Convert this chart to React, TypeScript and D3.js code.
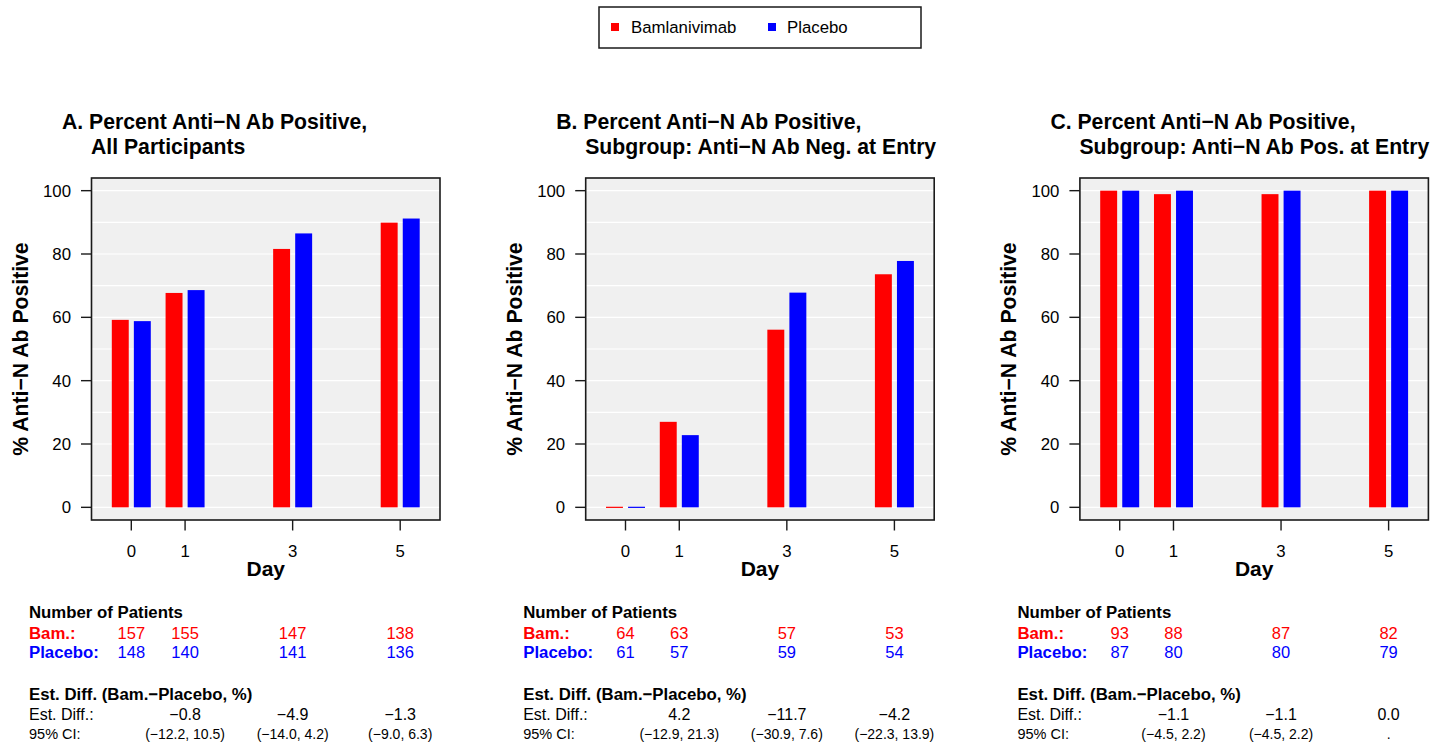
import * as React from "react";
import * as d3 from "d3";

const days = [0, 1, 3, 5];
const diffDays = [1, 3, 5];
const yTicks = [0, 20, 40, 60, 80, 100];
const gridValues = d3.range(0, 101, 10);

const titles = ["A. Percent Anti\u2212N Ab Positive,", "B. Percent Anti\u2212N Ab Positive,", "C. Percent Anti\u2212N Ab Positive,"];
const subtitles = ["All Participants", "Subgroup: Anti\u2212N Ab Neg. at Entry", "Subgroup: Anti\u2212N Ab Pos. at Entry"];

const bamPctA = [59.2, 67.7, 81.6, 89.9];
const placeboPctA = [58.8, 68.6, 86.5, 91.2];
const bamPctB = [0, 27.0, 56.1, 73.6];
const placeboPctB = [0, 22.8, 67.8, 77.8];
const bamPctC = [100, 98.9, 98.9, 100];
const placeboPctC = [100, 100, 100, 100];

const bamNA = [157, 155, 147, 138];
const placeboNA = [148, 140, 141, 136];
const bamNB = [64, 63, 57, 53];
const placeboNB = [61, 57, 59, 54];
const bamNC = [93, 88, 87, 82];
const placeboNC = [87, 80, 80, 79];

const estDiffA = ["\u22120.8", "\u22124.9", "\u22121.3"];
const ciA = ["(\u221212.2, 10.5)", "(\u221214.0, 4.2)", "(\u22129.0, 6.3)"];
const estDiffB = ["4.2", "\u221211.7", "\u22124.2"];
const ciB = ["(\u221212.9, 21.3)", "(\u221230.9, 7.6)", "(\u221222.3, 13.9)"];
const estDiffC = ["\u22121.1", "\u22121.1", "0.0"];
const ciC = ["(\u22124.5, 2.2)", "(\u22124.5, 2.2)", "."];

const RED = "#ff0000";
const BLUE = "#0000ff";
const FONT = "'Liberation Sans', Arial, Helvetica, sans-serif";

const panels = [
  { title: titles[0], sub: subtitles[0], bam: bamPctA, pla: placeboPctA, bamN: bamNA, plaN: placeboNA, diff: estDiffA, ci: ciA },
  { title: titles[1], sub: subtitles[1], bam: bamPctB, pla: placeboPctB, bamN: bamNB, plaN: placeboNB, diff: estDiffB, ci: ciB },
  { title: titles[2], sub: subtitles[2], bam: bamPctC, pla: placeboPctC, bamN: bamNC, plaN: placeboNC, diff: estDiffC, ci: ciC },
];

const Panel = ({ p, ox }) => {
  const left = 91.5, right = 440, top = 178, bottom = 520;
  const x = d3.scaleLinear().domain([-0.74, 5.74]).range([left, right]);
  const y = d3.scaleLinear().domain([-4, 104]).range([bottom, top]);
  const off = 0.205, bw = 0.315;
  // zero-height bars still show as a thin line, like R's barplot border
  const bar = (d, v, dx, col) => {
    const h = Math.max(y(0) - y(v), 1.2);
    return <rect x={x(d + dx - bw / 2)} y={y(0) - h + (v === 0 ? 0.6 : 0)} width={x(bw) - x(0)} height={h} fill={col} />;
  };

  return (
    <g transform={`translate(${ox},0)`}>
      <text x={62} y={129} fontSize={21.2} fontWeight="bold">{p.title}</text>
      <text x={91} y={154} fontSize={21.2} fontWeight="bold">{p.sub}</text>

      <rect x={left} y={top} width={right - left} height={bottom - top} fill="#f0f0f0" />
      {gridValues.map(v => (
        <line key={"g" + v} x1={left} x2={right} y1={y(v)} y2={y(v)} stroke="#fff" strokeWidth={1.2} />
      ))}
      {days.map((d, i) => (
        <g key={"b" + d}>
          {bar(d, p.bam[i], -off, RED)}
          {bar(d, p.pla[i], off, BLUE)}
        </g>
      ))}
      <rect x={left} y={top} width={right - left} height={bottom - top} fill="none" stroke="#1a1a1a" strokeWidth={1.6} />

      {yTicks.map(t => (
        <g key={"yt" + t}>
          <line x1={81} x2={left} y1={y(t)} y2={y(t)} stroke="#1a1a1a" strokeWidth={1.4} />
          <text x={71} y={y(t)} dy="0.36em" textAnchor="end" fontSize={16.8}>{t}</text>
        </g>
      ))}
      {days.map(d => (
        <g key={"xt" + d}>
          <line x1={x(d)} x2={x(d)} y1={bottom} y2={530.5} stroke="#1a1a1a" strokeWidth={1.4} />
          <text x={x(d)} y={557} textAnchor="middle" fontSize={16.8}>{d}</text>
        </g>
      ))}
      <text x={(left + right) / 2} y={576} textAnchor="middle" fontSize={21} fontWeight="bold">Day</text>
      <text transform={`translate(27.5,${(top + bottom) / 2}) rotate(-90)`} textAnchor="middle" fontSize={21.2} fontWeight="bold">
        % Anti{"\u2212"}N Ab Positive
      </text>

      <text x={29} y={618} fontSize={16.8} fontWeight="bold">Number of Patients</text>
      <text x={29} y={638.5} fontSize={16.8} fontWeight="bold" fill={RED}>Bam.:</text>
      <text x={29} y={657.5} fontSize={16.8} fontWeight="bold" fill={BLUE}>Placebo:</text>
      {days.map((d, i) => (
        <g key={"n" + d}>
          <text x={x(d)} y={638.5} textAnchor="middle" fontSize={16.5} fill={RED}>{p.bamN[i]}</text>
          <text x={x(d)} y={657.5} textAnchor="middle" fontSize={16.5} fill={BLUE}>{p.plaN[i]}</text>
        </g>
      ))}
      <text x={29} y={700} fontSize={16.8} fontWeight="bold">Est. Diff. (Bam.{"\u2212"}Placebo, %)</text>
      <text x={29} y={719.5} fontSize={16}>Est. Diff.:</text>
      <text x={29} y={738.5} fontSize={14.5}>95% CI:</text>
      {diffDays.map((d, i) => (
        <g key={"d" + d}>
          <text x={x(d)} y={719.5} textAnchor="middle" fontSize={16}>{p.diff[i]}</text>
          <text x={x(d)} y={738.5} textAnchor="middle" fontSize={14}>{p.ci[i]}</text>
        </g>
      ))}
    </g>
  );
};

export default function App() {
  return (
    <svg width={1448} height={748} style={{ position: "absolute", left: 0, top: 0 }} fontFamily={FONT} fill="#000">
      <rect width={1448} height={748} fill="#fff" />
      <rect x={599} y={7} width={322} height={41} fill="#fff" stroke="#1a1a1a" strokeWidth={1.5} />
      <rect x={611} y={23} width={8} height={8} fill={RED} />
      <text x={631} y={32.5} fontSize={16.8}>Bamlanivimab</text>
      <rect x={768} y={23} width={8} height={8} fill={BLUE} />
      <text x={787} y={32.5} fontSize={16.8}>Placebo</text>
      {panels.map((p, i) => (
        <Panel key={i} p={p} ox={i * 494.2} />
      ))}
    </svg>
  );
}
